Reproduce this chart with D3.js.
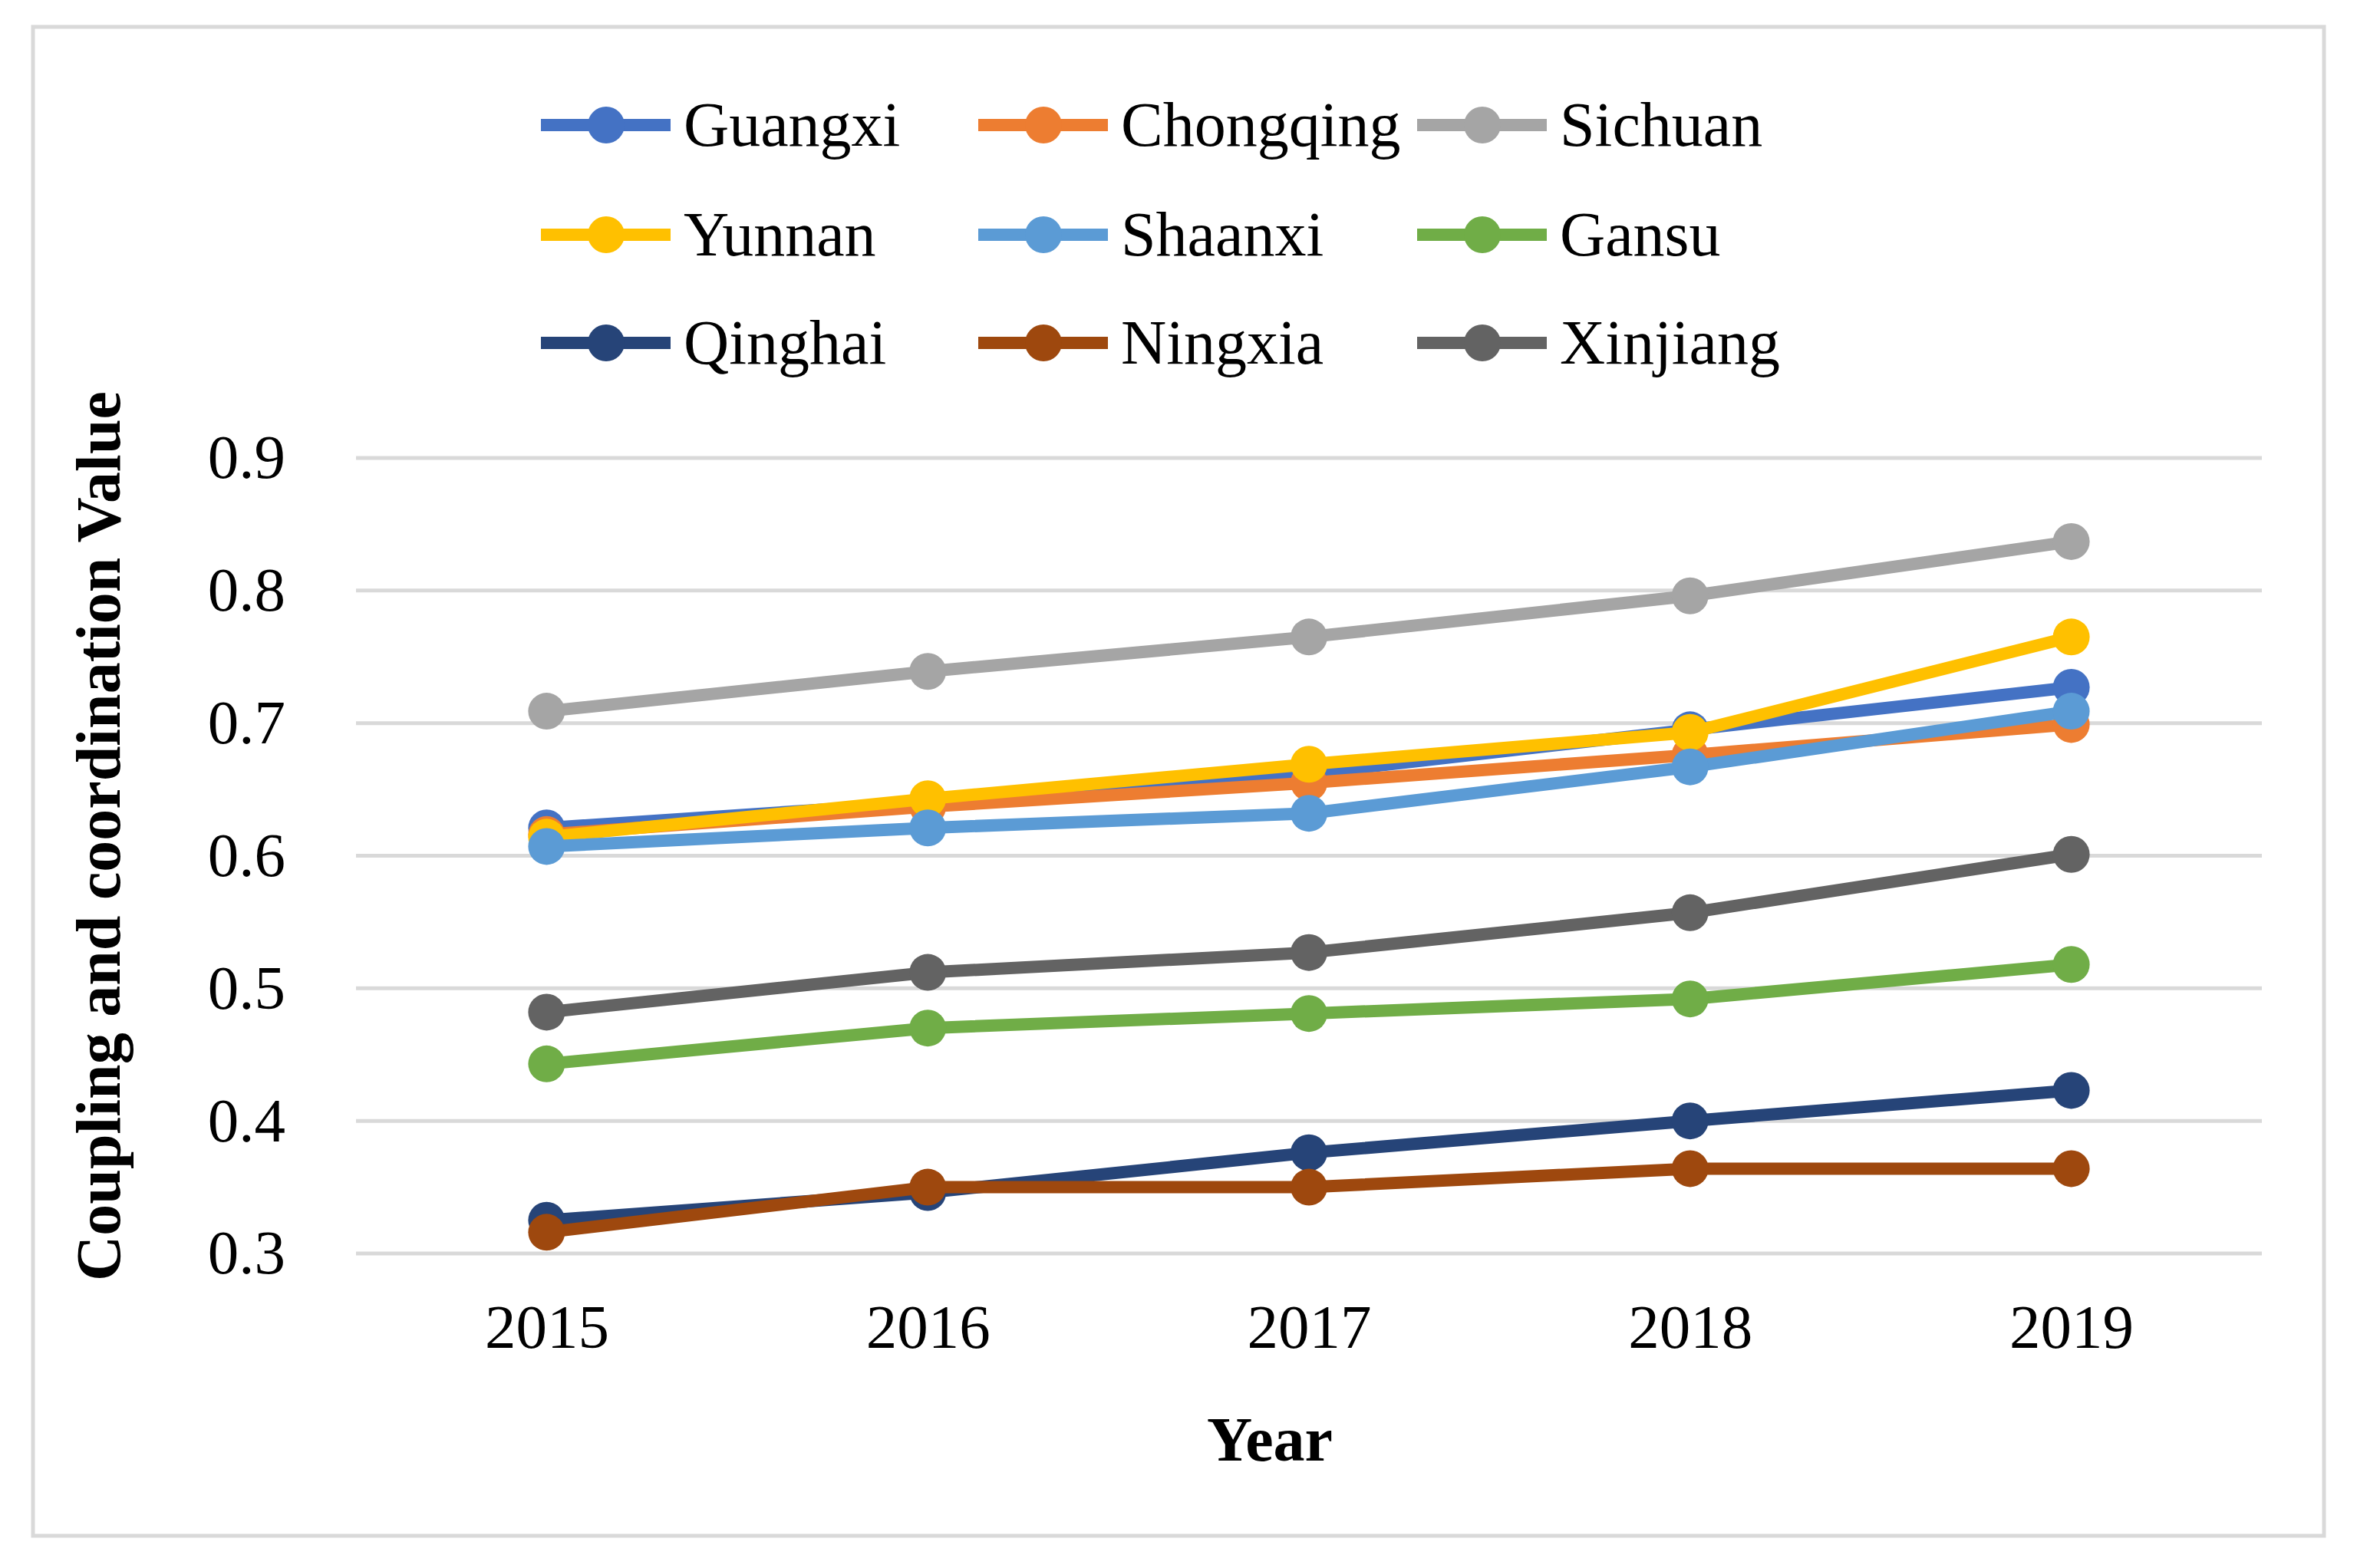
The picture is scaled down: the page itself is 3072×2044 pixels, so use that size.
<!DOCTYPE html>
<html>
<head>
<meta charset="utf-8">
<script src="https://cdn.jsdelivr.net/npm/d3@7"></script>
<style>
  html, body { margin: 0; padding: 0; background: #fff; }
  svg text { font-family: "Liberation Serif", "Times New Roman", serif; fill: #000; }
</style>
</head>
<body>
<div id="chart"></div>
<script>
/* ── data ───────────────────────────────────────────── */
const years = ["2015", "2016", "2017", "2018", "2019"];
const yTicks = [0.3, 0.4, 0.5, 0.6, 0.7, 0.8, 0.9];

const guangxi   = [0.621, 0.640, 0.662, 0.695, 0.727];
const chongqing = [0.616, 0.637, 0.655, 0.676, 0.699];
const sichuan   = [0.709, 0.739, 0.765, 0.796, 0.837];
const yunnan    = [0.614, 0.643, 0.669, 0.693, 0.765];
const shaanxi   = [0.607, 0.621, 0.632, 0.667, 0.709];
const gansu     = [0.443, 0.470, 0.481, 0.492, 0.518];
const qinghai   = [0.325, 0.346, 0.376, 0.400, 0.423];
const ningxia   = [0.316, 0.350, 0.350, 0.364, 0.364];
const xinjiang  = [0.482, 0.512, 0.527, 0.557, 0.601];

const series = [
  { name: "Guangxi",   values: guangxi,   color: "#4472C4" },
  { name: "Chongqing", values: chongqing, color: "#ED7D31" },
  { name: "Sichuan",   values: sichuan,   color: "#A5A5A5" },
  { name: "Yunnan",    values: yunnan,    color: "#FFC000" },
  { name: "Shaanxi",   values: shaanxi,   color: "#5B9BD5" },
  { name: "Gansu",     values: gansu,     color: "#70AD47" },
  { name: "Qinghai",   values: qinghai,   color: "#264478" },
  { name: "Ningxia",   values: ningxia,   color: "#9E480E" },
  { name: "Xinjiang",  values: xinjiang,  color: "#636363" }
];

/* ── layout ─────────────────────────────────────────── */
const W = 3072, H = 2044;
const plot = { left: 464, right: 2948, top: 597, bottom: 1634 };
const LINE_W = 16, R = 24;

const svg = d3.select("#chart").append("svg")
  .attr("width", W).attr("height", H);

// outer frame
svg.append("rect")
  .attr("x", 43).attr("y", 35).attr("width", 2986).attr("height", 1967)
  .attr("fill", "#fff").attr("stroke", "#d9d9d9").attr("stroke-width", 5);

const x = d3.scalePoint().domain(years).range([plot.left, plot.right]).padding(0.5);
const y = d3.scaleLinear().domain([0.3, 0.9]).range([plot.bottom, plot.top]);

// gridlines
svg.append("g").selectAll("line").data(yTicks).join("line")
  .attr("x1", plot.left).attr("x2", plot.right)
  .attr("y1", d => y(d)).attr("y2", d => y(d))
  .attr("stroke", "#d9d9d9").attr("stroke-width", 5);

// y axis labels
const yAxis = svg.append("g")
  .attr("transform", `translate(${plot.left - 92},0)`)
  .call(d3.axisLeft(y).tickValues(yTicks).tickFormat(d3.format(".1f")).tickSize(0).tickPadding(0));
yAxis.select(".domain").remove();
yAxis.selectAll("text")
  .attr("font-family", "Liberation Serif").attr("font-size", "81px")
  .attr("fill", "#000").attr("dy", "0.32em");

// x axis labels
const xAxis = svg.append("g")
  .attr("transform", `translate(0,${plot.bottom})`)
  .call(d3.axisBottom(x).tickSize(0).tickPadding(0));
xAxis.select(".domain").remove();
xAxis.selectAll("text")
  .attr("font-family", "Liberation Serif").attr("font-size", "81px")
  .attr("fill", "#000").attr("y", 123).attr("dy", 0);

// axis titles
svg.append("text")
  .attr("x", 1655).attr("y", 1904)
  .attr("text-anchor", "middle").attr("font-size", "82px").attr("font-weight", "bold")
  .text("Year");

svg.append("text")
  .attr("transform", "translate(156,1090) rotate(-90)")
  .attr("text-anchor", "middle").attr("font-size", "82px").attr("font-weight", "bold")
  .text("Coupling and coordination Value");

// lines + markers
const line = d3.line().x((d, i) => x(years[i])).y(d => y(d));
series.forEach(s => {
  const g = svg.append("g");
  g.append("path")
    .datum(s.values)
    .attr("fill", "none").attr("stroke", s.color)
    .attr("stroke-width", LINE_W).attr("stroke-linejoin", "round").attr("stroke-linecap", "round")
    .attr("d", line);
  g.selectAll("circle").data(s.values).join("circle")
    .attr("cx", (d, i) => x(years[i])).attr("cy", d => y(d))
    .attr("r", R).attr("fill", s.color);
});

// legend
const legCols = [705, 1275, 1847];
const legRows = [163, 306, 447];
const leg = svg.append("g").selectAll("g").data(series).join("g")
  .attr("transform", (d, i) => `translate(${legCols[i % 3]},${legRows[Math.floor(i / 3)]})`);
leg.append("line")
  .attr("x1", 0).attr("x2", 169).attr("y1", 0).attr("y2", 0)
  .attr("stroke", d => d.color).attr("stroke-width", LINE_W).attr("stroke-linecap", "butt");
leg.append("circle")
  .attr("cx", 85).attr("cy", 0).attr("r", R).attr("fill", d => d.color);
leg.append("text")
  .attr("x", 186).attr("y", 0).attr("dy", "0.33em")
  .attr("font-size", "82px")
  .text(d => d.name);
</script>
</body>
</html>
